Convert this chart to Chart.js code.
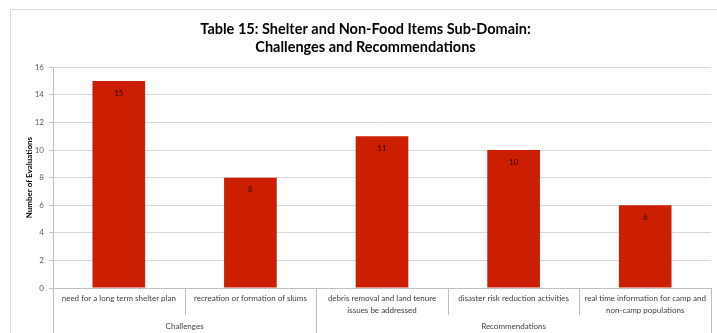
<!DOCTYPE html>
<html>
<head>
<meta charset="utf-8">
<script src="https://cdn.jsdelivr.net/npm/chart.js@4.4.1/dist/chart.umd.min.js"></script>
<style>
  html, body { margin: 0; padding: 0; background: #fff; }
  #wrap { position: relative; width: 717px; height: 333px; }
  #frame { position: absolute; left: 10px; top: 9px; right: 0; bottom: 0;
           border-left: 1px solid #d9d9d9; border-top: 1px solid #d9d9d9; }
  canvas { position: absolute; left: 0; top: 0; }
</style>
</head>
<body>
<div id="wrap">
  <div id="frame"></div>
  <canvas id="chart" width="717" height="333"></canvas>
</div>
<script>
// Datos del gráfico
const categories = [
    'need for a long term shelter plan',
    'recreation or formation of slums',
    ['debris removal and land tenure', 'issues be addressed'],
    'disaster risk reduction activities',
    ['real time information for camp and', 'non-camp populations']
];
const values = [15, 8, 11, 10, 6];
const groupNames = ['Challenges', 'Recommendations'];
const groupSizes = [2, 3];
const titleLines = ['Table 15: Shelter and Non-Food Items Sub-Domain:', 'Challenges and Recommendations'];

const colorBar = '#cc1e00';
const colorAxis = '#bfbfbf';
const fontSmall = 'Lato, "Open Sans", sans-serif';

// Eje x de dos niveles: divisiones, grupos y etiquetas de valor
const multiLevelAxis = {
    id: 'multiLevelAxis',
    afterDraw(chart) {
        const { ctx, chartArea } = chart;
        const x = chart.scales.x;
        const n = categories.length;
        const half = (x.getPixelForValue(1) - x.getPixelForValue(0)) / 2;
        const edge = i => i < n ? x.getPixelForValue(i) - half : x.getPixelForValue(n - 1) + half;

        const groupEdges = [0];
        groupSizes.forEach(s => groupEdges.push(groupEdges[groupEdges.length - 1] + s));

        ctx.save();
        ctx.strokeStyle = colorAxis;
        ctx.lineWidth = 1;
        for (let i = 0; i <= n; i++) {
            const px = Math.round(edge(i)) + 0.5;
            const bottom = groupEdges.includes(i) ? chart.height : chartArea.bottom + 27;
            ctx.beginPath();
            ctx.moveTo(px, chartArea.bottom);
            ctx.lineTo(px, bottom);
            ctx.stroke();
        }

        ctx.fillStyle = '#404040';
        ctx.font = '8px ' + fontSmall;
        ctx.textAlign = 'center';
        ctx.textBaseline = 'middle';
        groupNames.forEach((name, g) => {
            const cx = (edge(groupEdges[g]) + edge(groupEdges[g + 1])) / 2;
            ctx.fillText(name, cx, chartArea.bottom + 38);
        });

        // valores dentro de cada barra
        ctx.fillStyle = '#2b0800';
        const meta = chart.getDatasetMeta(0);
        meta.data.forEach((bar, i) => {
            ctx.fillText(String(values[i]), bar.x, bar.y + 12);
        });
        ctx.restore();
    }
};

new Chart(document.getElementById('chart'), {
    type: 'bar',
    data: {
        labels: categories,
        datasets: [{
            data: values,
            backgroundColor: colorBar,
            categoryPercentage: 1,
            barPercentage: 0.4
        }]
    },
    options: {
        responsive: false,
        animation: false,
        layout: { padding: { left: 20, right: 6, top: 0, bottom: 0 } },
        plugins: {
            legend: { display: false },
            tooltip: { enabled: false },
            title: {
                display: true,
                text: titleLines,
                color: '#000',
                font: { family: 'Lato, "Open Sans", sans-serif', size: 14.5, weight: 'bold', lineHeight: 1.25 },
                padding: { top: 20, bottom: 11 }
            }
        },
        scales: {
            y: {
                min: 0,
                max: 16,
                ticks: { stepSize: 2, color: '#595959', font: { family: fontSmall, size: 8 }, padding: 5 },
                grid: { color: '#d9d9d9', tickLength: 4, tickColor: colorAxis },
                border: { color: colorAxis },
                title: {
                    display: true,
                    text: 'Number of Evaluations',
                    color: '#000',
                    font: { family: fontSmall, size: 8, weight: 'bold' },
                    padding: { top: 5, bottom: 0 }
                },
                afterFit: scale => { scale.width = 33; }
            },
            x: {
                grid: { display: false, drawTicks: false },
                border: { color: colorAxis },
                ticks: {
                    color: '#404040',
                    font: { family: fontSmall, size: 8, lineHeight: 1.5 },
                    padding: 4,
                    maxRotation: 0,
                    autoSkip: false
                },
                afterFit: scale => { scale.height = 45; }
            }
        }
    },
    plugins: [multiLevelAxis]
});
</script>
</body>
</html>
